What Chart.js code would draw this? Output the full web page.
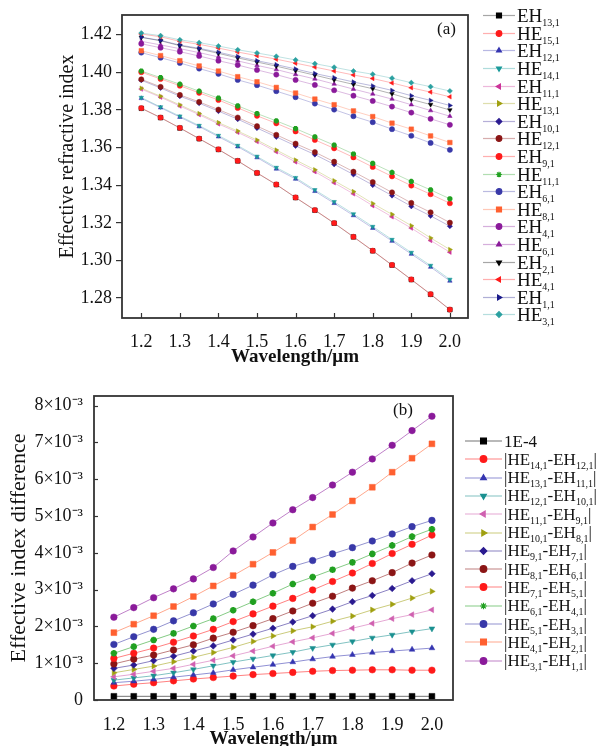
<!DOCTYPE html>
<html>
<head>
<meta charset="utf-8">
<script src="https://cdn.jsdelivr.net/npm/chart.js@4.4.1/dist/chart.umd.min.js"></script>
<style>
  html, body { margin: 0; padding: 0; background: #fff; overflow: hidden; }
  body { width: 616px; height: 746px; position: relative; font-family: 'Liberation Serif', 'Times New Roman', serif; color: #111; }
  .panel { position: absolute; left: 0; width: 616px; }
  #wrap-a { top: 0; height: 380px; }
  #wrap-b { top: 380px; height: 390px; }
  .panel canvas.chart { position: absolute; left: 0; top: 0; }
  .row { position: absolute; display: flex; align-items: center; white-space: nowrap; }
  .row canvas { display: block; }
  .row span { line-height: 1; }
  .row sub { font-size: 10px; vertical-align: -4px; line-height: 0; }
  .tag { position: absolute; font-size: 17px; }
</style>
</head>
<body>
<div class="panel" id="wrap-a">
  <canvas class="chart" id="chart-a" width="616" height="380"></canvas>
  <div class="tag" style="left:437px; top:19px;">(a)</div>
</div>
<div class="panel" id="wrap-b">
  <canvas class="chart" id="chart-b" width="616" height="390"></canvas>
  <div class="tag" style="left:393px; top:20px;">(b)</div>
</div>

<script>
// ---------------------------------------------------------------------------
// Data
// ---------------------------------------------------------------------------

const WAVELENGTH = [1.2, 1.25, 1.3, 1.35, 1.4, 1.45, 1.5, 1.55, 1.6, 1.65, 1.7, 1.75, 1.8, 1.85, 1.9, 1.95, 2.0];
const X_TICKS = [1.2, 1.3, 1.4, 1.5, 1.6, 1.7, 1.8, 1.9, 2.0];
const NEFF_TICKS = [1.28, 1.30, 1.32, 1.34, 1.36, 1.38, 1.40, 1.42];
const DIFF_TICKS = [0, 1, 2, 3, 4, 5, 6, 7, 8]; // x 10^-3

// (a) effective refractive index
const EH13_1 = [1.3809, 1.3759, 1.3704, 1.3647, 1.3590, 1.3529, 1.3465, 1.3403, 1.3334, 1.3267, 1.3198, 1.3125, 1.3051, 1.2975, 1.2898, 1.2820, 1.2738];
const HE15_1 = [1.3810, 1.3760, 1.3705, 1.3648, 1.3591, 1.3530, 1.3466, 1.3404, 1.3335, 1.3268, 1.3199, 1.3126, 1.3052, 1.2976, 1.2899, 1.2821, 1.2739];
const EH12_1 = [1.3862, 1.3812, 1.3762, 1.3712, 1.3658, 1.3605, 1.3547, 1.3487, 1.3433, 1.3368, 1.3304, 1.3239, 1.3172, 1.3103, 1.3034, 1.2965, 1.2891];
const HE14_1 = [1.3866, 1.3816, 1.3767, 1.3717, 1.3664, 1.3611, 1.3553, 1.3494, 1.3440, 1.3375, 1.3312, 1.3247, 1.3180, 1.3111, 1.3042, 1.2973, 1.2899];
const EH11_1 = [1.3911, 1.3868, 1.3821, 1.3775, 1.3726, 1.3681, 1.3632, 1.3578, 1.3524, 1.3472, 1.3413, 1.3354, 1.3291, 1.3232, 1.3172, 1.3106, 1.3044];
const HE13_1 = [1.3916, 1.3873, 1.3827, 1.3781, 1.3733, 1.3688, 1.3640, 1.3587, 1.3534, 1.3482, 1.3424, 1.3366, 1.3303, 1.3245, 1.3185, 1.3120, 1.3058];
const EH10_1 = [1.3958, 1.3917, 1.3873, 1.3836, 1.3794, 1.3751, 1.3704, 1.3657, 1.3609, 1.3563, 1.3511, 1.3457, 1.3401, 1.3345, 1.3288, 1.3237, 1.3182];
const HE12_1 = [1.3963, 1.3923, 1.3880, 1.3843, 1.3802, 1.3760, 1.3714, 1.3668, 1.3621, 1.3576, 1.3525, 1.3472, 1.3417, 1.3362, 1.3306, 1.3256, 1.3201];
const EH9_1  = [1.4001, 1.3965, 1.3929, 1.3891, 1.3853, 1.3811, 1.3769, 1.3729, 1.3686, 1.3641, 1.3596, 1.3548, 1.3497, 1.3447, 1.3398, 1.3352, 1.3304];
const HE11_1 = [1.4007, 1.3972, 1.3937, 1.3900, 1.3863, 1.3822, 1.3781, 1.3742, 1.3701, 1.3657, 1.3613, 1.3566, 1.3516, 1.3468, 1.3420, 1.3375, 1.3328];
const EH6_1  = [1.4105, 1.4078, 1.4050, 1.4020, 1.3992, 1.3960, 1.3932, 1.3900, 1.3868, 1.3834, 1.3802, 1.3767, 1.3735, 1.3698, 1.3663, 1.3625, 1.3588];
const HE8_1  = [1.4115, 1.4089, 1.4062, 1.4034, 1.4007, 1.3977, 1.3950, 1.3920, 1.3890, 1.3858, 1.3828, 1.3795, 1.3765, 1.3730, 1.3698, 1.3662, 1.3627];
const EH4_1  = [1.4152, 1.4131, 1.4110, 1.4087, 1.4062, 1.4039, 1.4013, 1.3988, 1.3960, 1.3933, 1.3905, 1.3876, 1.3848, 1.3818, 1.3786, 1.3753, 1.3721];
const HE6_1  = [1.4165, 1.4146, 1.4126, 1.4105, 1.4082, 1.4061, 1.4037, 1.4015, 1.3989, 1.3965, 1.3938, 1.3911, 1.3885, 1.3858, 1.3828, 1.3797, 1.3767];
const EH2_1  = [1.4186, 1.4168, 1.4142, 1.4124, 1.4101, 1.4077, 1.4055, 1.4033, 1.4009, 1.3985, 1.3960, 1.3936, 1.3913, 1.3886, 1.3856, 1.3829, 1.3800];
const HE4_1  = [1.4204, 1.4189, 1.4165, 1.4149, 1.4129, 1.4108, 1.4089, 1.4070, 1.4049, 1.4028, 1.4007, 1.3986, 1.3967, 1.3944, 1.3918, 1.3895, 1.3870];
const EH1_1  = [1.4187, 1.4170, 1.4145, 1.4128, 1.4107, 1.4084, 1.4062, 1.4041, 1.4018, 1.3994, 1.3972, 1.3949, 1.3928, 1.3904, 1.3876, 1.3851, 1.3824];
const HE3_1  = [1.4209, 1.4195, 1.4173, 1.4158, 1.4140, 1.4120, 1.4103, 1.4085, 1.4066, 1.4046, 1.4027, 1.4007, 1.3990, 1.3969, 1.3945, 1.3924, 1.3901];

// (b) effective index difference, in units of 10^-3
const DIFF_REF      = [0.1, 0.1, 0.1, 0.1, 0.1, 0.1, 0.1, 0.1, 0.1, 0.1, 0.1, 0.1, 0.1, 0.1, 0.1, 0.1, 0.1];
const DIFF_HE14_EH12 = [0.38, 0.43, 0.47, 0.52, 0.57, 0.61, 0.65, 0.69, 0.72, 0.75, 0.78, 0.80, 0.81, 0.82, 0.82, 0.81, 0.81];
const DIFF_HE13_EH11 = [0.47, 0.51, 0.56, 0.62, 0.68, 0.74, 0.82, 0.89, 0.96, 1.03, 1.11, 1.18, 1.23, 1.29, 1.33, 1.37, 1.41];
const DIFF_HE12_EH10 = [0.54, 0.60, 0.66, 0.74, 0.83, 0.93, 1.03, 1.12, 1.21, 1.30, 1.41, 1.50, 1.59, 1.69, 1.77, 1.86, 1.94];
const DIFF_HE11_EH9  = [0.63, 0.70, 0.78, 0.86, 0.97, 1.08, 1.20, 1.33, 1.46, 1.58, 1.69, 1.81, 1.95, 2.08, 2.21, 2.32, 2.45];
const DIFF_HE10_EH8  = [0.74, 0.83, 0.92, 1.04, 1.16, 1.29, 1.43, 1.59, 1.74, 1.88, 1.99, 2.14, 2.28, 2.45, 2.60, 2.77, 2.95];
const DIFF_HE9_EH7   = [0.86, 0.95, 1.07, 1.19, 1.33, 1.47, 1.63, 1.79, 1.95, 2.12, 2.29, 2.47, 2.67, 2.84, 3.03, 3.24, 3.43];
const DIFF_HE8_EH6   = [0.98, 1.11, 1.22, 1.36, 1.50, 1.68, 1.84, 2.02, 2.21, 2.42, 2.63, 2.82, 3.04, 3.24, 3.46, 3.72, 3.94];
const DIFF_HE7_EH5   = [1.13, 1.27, 1.41, 1.57, 1.74, 1.92, 2.13, 2.34, 2.55, 2.76, 2.99, 3.22, 3.45, 3.71, 3.98, 4.23, 4.48];
const DIFF_HE6_EH4   = [1.27, 1.45, 1.63, 1.81, 2.01, 2.21, 2.44, 2.67, 2.90, 3.15, 3.34, 3.54, 3.74, 3.97, 4.20, 4.44, 4.64];
const DIFF_HE5_EH3   = [1.51, 1.72, 1.92, 2.15, 2.37, 2.61, 2.87, 3.12, 3.40, 3.63, 3.79, 3.97, 4.14, 4.32, 4.51, 4.71, 4.88];
const DIFF_HE4_EH2   = [1.83, 2.06, 2.29, 2.54, 2.81, 3.10, 3.38, 3.69, 4.01, 4.33, 4.70, 5.04, 5.41, 5.78, 6.19, 6.57, 6.96];
const DIFF_HE3_EH1   = [2.25, 2.51, 2.78, 3.02, 3.29, 3.60, 4.05, 4.43, 4.81, 5.17, 5.50, 5.84, 6.19, 6.55, 6.92, 7.32, 7.71];

// ---------------------------------------------------------------------------
// Series styling
// ---------------------------------------------------------------------------

const SERIES_A = [
  { label: 'EH<sub>13,1</sub>', data: EH13_1, color: '#000000', style: 'rect' },
  { label: 'HE<sub>15,1</sub>', data: HE15_1, color: '#ff1a1a', style: 'circle' },
  { label: 'EH<sub>12,1</sub>', data: EH12_1, color: '#3535b0', style: 'triangle' },
  { label: 'HE<sub>14,1</sub>', data: HE14_1, color: '#1a9a9a', style: 'triangle', rot: 180 },
  { label: 'EH<sub>11,1</sub>', data: EH11_1, color: '#cc3399', style: 'triangle', rot: 270 },
  { label: 'HE<sub>13,1</sub>', data: HE13_1, color: '#a0a010', style: 'triangle', rot: 90 },
  { label: 'EH<sub>10,1</sub>', data: EH10_1, color: '#2a1a90', style: 'rectRot' },
  { label: 'HE<sub>12,1</sub>', data: HE12_1, color: '#8b1515', style: 'circle' },
  { label: 'EH<sub>9,1</sub>',  data: EH9_1,  color: '#ff1a1a', style: 'circle' },
  { label: 'HE<sub>11,1</sub>', data: HE11_1, color: '#20a020', style: 'star' },
  { label: 'EH<sub>6,1</sub>',  data: EH6_1,  color: '#3838a8', style: 'circle' },
  { label: 'HE<sub>8,1</sub>',  data: HE8_1,  color: '#ff6030', style: 'rect' },
  { label: 'EH<sub>4,1</sub>',  data: EH4_1,  color: '#8a1a9a', style: 'circle' },
  { label: 'HE<sub>6,1</sub>',  data: HE6_1,  color: '#8a1a9a', style: 'triangle' },
  { label: 'EH<sub>2,1</sub>',  data: EH2_1,  color: '#000000', style: 'triangle', rot: 180 },
  { label: 'HE<sub>4,1</sub>',  data: HE4_1,  color: '#ff1a1a', style: 'triangle', rot: 270 },
  { label: 'EH<sub>1,1</sub>',  data: EH1_1,  color: '#1a1a8a', style: 'triangle', rot: 90 },
  { label: 'HE<sub>3,1</sub>',  data: HE3_1,  color: '#2aa0a0', style: 'rectRot' }
];

const SERIES_B = [
  { label: '1E-4', data: DIFF_REF, color: '#000000', style: 'rect' },
  { label: '|HE<sub>14,1</sub>-EH<sub>12,1</sub>|', data: DIFF_HE14_EH12, color: '#ff1a1a', style: 'circle' },
  { label: '|HE<sub>13,1</sub>-EH<sub>11,1</sub>|', data: DIFF_HE13_EH11, color: '#3535b0', style: 'triangle' },
  { label: '|HE<sub>12,1</sub>-EH<sub>10,1</sub>|', data: DIFF_HE12_EH10, color: '#1a9090', style: 'triangle', rot: 180 },
  { label: '|HE<sub>11,1</sub>-EH<sub>9,1</sub>|',  data: DIFF_HE11_EH9,  color: '#d060b0', style: 'triangle', rot: 270 },
  { label: '|HE<sub>10,1</sub>-EH<sub>8,1</sub>|',  data: DIFF_HE10_EH8,  color: '#a0a010', style: 'triangle', rot: 90 },
  { label: '|HE<sub>9,1</sub>-EH<sub>7,1</sub>|',   data: DIFF_HE9_EH7,   color: '#2a1a90', style: 'rectRot' },
  { label: '|HE<sub>8,1</sub>-EH<sub>6,1</sub>|',   data: DIFF_HE8_EH6,   color: '#8b1515', style: 'circle' },
  { label: '|HE<sub>7,1</sub>-EH<sub>5,1</sub>|',   data: DIFF_HE7_EH5,   color: '#ff1a1a', style: 'circle' },
  { label: '|HE<sub>6,1</sub>-EH<sub>4,1</sub>|',   data: DIFF_HE6_EH4,   color: '#20a020', style: 'star' },
  { label: '|HE<sub>5,1</sub>-EH<sub>3,1</sub>|',   data: DIFF_HE5_EH3,   color: '#3838a8', style: 'circle' },
  { label: '|HE<sub>4,1</sub>-EH<sub>2,1</sub>|',   data: DIFF_HE4_EH2,   color: '#ff6030', style: 'rect' },
  { label: '|HE<sub>3,1</sub>-EH<sub>1,1</sub>|',   data: DIFF_HE3_EH1,   color: '#8a1a9a', style: 'circle' }
];

const SERIF = "'Liberation Serif', 'Times New Roman', serif";
Chart.defaults.font.family = SERIF;
Chart.defaults.color = '#111';

function fade(hex, a) {
  const n = parseInt(hex.slice(1), 16);
  return `rgba(${(n >> 16) & 255}, ${(n >> 8) & 255}, ${n & 255}, ${a})`;
}

// box round the plot area plus inward tick marks
const framePlugin = {
  id: 'frame',
  afterDraw(chart, args, opts) {
    const { ctx, chartArea: a } = chart;
    ctx.save();
    ctx.strokeStyle = '#333';
    ctx.lineWidth = 1.2;
    (opts.inward || []).forEach(id => {
      const sc = chart.scales[id];
      sc.ticks.forEach(t => {
        const p = Math.round(sc.getPixelForValue(t.value)) + 0.5;
        ctx.beginPath();
        if (sc.isHorizontal()) { ctx.moveTo(p, a.bottom); ctx.lineTo(p, a.bottom - opts.len); }
        else { ctx.moveTo(a.left, p); ctx.lineTo(a.left + opts.len, p); }
        ctx.stroke();
      });
    });
    ctx.lineWidth = 1.8;
    ctx.strokeRect(a.left, a.top, a.right - a.left, a.bottom - a.top);
    ctx.restore();
  }
};

function buildDatasets(series, radius, lineAlpha) {
  const n = series.length;
  return series.map((s, i) => ({
    label: s.label,
    data: s.data.map((v, k) => ({ x: WAVELENGTH[k], y: v })),
    borderColor: fade(s.color, lineAlpha),
    borderWidth: 1,
    backgroundColor: s.color,
    pointBackgroundColor: s.color,
    pointBorderColor: s.color,
    pointBorderWidth: s.style === 'star' ? 2 : 0.5,
    pointStyle: s.style,
    pointRotation: s.rot || 0,
    pointRadius: s.style === 'rect' ? radius * 1.25 : radius,
    tension: 0,
    order: n - i
  }));
}

function buildLegend(parent, series, o) {
  series.forEach((s, i) => {
    const row = document.createElement('div');
    row.className = 'row';
    row.style.left = o.left + 'px';
    row.style.top = (o.top + i * o.step - o.rowH / 2) + 'px';
    row.style.height = o.rowH + 'px';

    const key = document.createElement('canvas');
    key.width = o.keyW;
    key.height = o.rowH;
    const ctx = key.getContext('2d');
    ctx.strokeStyle = fade(s.color, o.lineAlpha);
    ctx.lineWidth = 1.2;
    ctx.beginPath();
    ctx.moveTo(0, o.rowH / 2);
    ctx.lineTo(o.keyW, o.rowH / 2);
    ctx.stroke();
    ctx.fillStyle = s.color;
    ctx.strokeStyle = s.color;
    const r = s.style === 'rect' ? o.radius * 1.25 : o.radius;
    Chart.helpers.drawPoint(ctx, { pointStyle: s.style, rotation: s.rot || 0, radius: r, borderWidth: s.style === 'star' ? 2 : 0.5 }, o.keyW / 2, o.rowH / 2);

    const text = document.createElement('span');
    text.style.fontSize = o.fontSize + 'px';
    text.style.marginLeft = o.gap + 'px';
    text.innerHTML = s.label;

    row.appendChild(key);
    row.appendChild(text);
    parent.appendChild(row);
  });
}

function fixedTicks(values) {
  return scale => { scale.ticks = values.map(v => ({ value: v })); };
}

// ---------------------------------------------------------------------------
// (a) Effective refractive index
// ---------------------------------------------------------------------------

new Chart(document.getElementById('chart-a'), {
  type: 'line',
  data: { datasets: buildDatasets(SERIES_A, 2.6, 0.3) },
  options: {
    responsive: false,
    animation: false,
    events: [],
    layout: { padding: { top: 15, right: 148, left: 0, bottom: 0 } },
    plugins: { legend: { display: false }, tooltip: { enabled: false }, frame: { inward: ['x'], len: 5 } },
    scales: {
      x: {
        type: 'linear', min: 1.15, max: 2.047,
        afterBuildTicks: fixedTicks(X_TICKS),
        afterFit: s => { s.height = 62; },
        grid: { display: false },
        border: { display: false },
        ticks: { padding: 5, font: { size: 18 }, color: '#111', callback: v => v.toFixed(1) },
        title: { display: true, text: 'Wavelength/\u03bcm', font: { size: 19, weight: 'bold' }, color: '#111', padding: { top: 0, bottom: 11.6 } }
      },
      y: {
        min: 1.2694, max: 1.4305,
        afterBuildTicks: fixedTicks(NEFF_TICKS),
        afterFit: s => { s.width = 122; },
        grid: { drawOnChartArea: false, drawTicks: true, tickLength: 6, color: '#333', lineWidth: 1.2 },
        border: { display: false },
        ticks: { padding: 4, font: { size: 18 }, color: '#111', callback: v => v.toFixed(2) },
        // leading spaces nudge the centred title upward, as in the figure
        title: { display: true, text: '\u00a0\u00a0\u00a0\u00a0Effective refractive index', font: { size: 20 }, color: '#111', padding: { top: 56, bottom: 0 } }
      }
    }
  },
  plugins: [framePlugin]
});

buildLegend(document.getElementById('wrap-a'), SERIES_A, {
  left: 483, top: 15.7, step: 17.6, rowH: 17, keyW: 32, gap: 2,
  radius: 2.8, fontSize: 19, lineAlpha: 0.35
});

// ---------------------------------------------------------------------------
// (b) Effective index difference
// ---------------------------------------------------------------------------

new Chart(document.getElementById('chart-b'), {
  type: 'line',
  data: { datasets: buildDatasets(SERIES_B, 3.3, 0.55) },
  options: {
    responsive: false,
    animation: false,
    events: [],
    layout: { padding: { top: 16, right: 163, left: 0, bottom: 0 } },
    plugins: { legend: { display: false }, tooltip: { enabled: false }, frame: { inward: ['y'], len: 4 } },
    scales: {
      x: {
        type: 'linear', min: 1.15, max: 2.053,
        afterBuildTicks: fixedTicks(X_TICKS),
        afterFit: s => { s.height = 70; },
        grid: { display: false },
        border: { display: false },
        ticks: { padding: 6, font: { size: 18 }, color: '#111', callback: v => v.toFixed(1) },
        title: { display: true, text: 'Wavelength/\u03bcm', font: { size: 19, weight: 'bold' }, color: '#111', padding: { top: 0, bottom: 19.6 } }
      },
      y: {
        min: 0, max: 8.26,
        afterBuildTicks: fixedTicks(DIFF_TICKS),
        afterFit: s => { s.width = 94; },
        grid: { display: false },
        border: { display: false },
        ticks: { padding: 3, font: { size: 18 }, color: '#111', callback: v => v === 0 ? '0' : v + '\u00d710\u207b\u00b3' },
        title: { display: true, text: 'Effective index difference', font: { size: 22 }, color: '#111', padding: { top: 6, bottom: 0 } }
      }
    }
  },
  plugins: [framePlugin]
});

buildLegend(document.getElementById('wrap-b'), SERIES_B, {
  left: 465, top: 61, step: 18.3, rowH: 18, keyW: 37, gap: 2,
  radius: 3.3, fontSize: 17, lineAlpha: 0.55
});
</script>
</body>
</html>
